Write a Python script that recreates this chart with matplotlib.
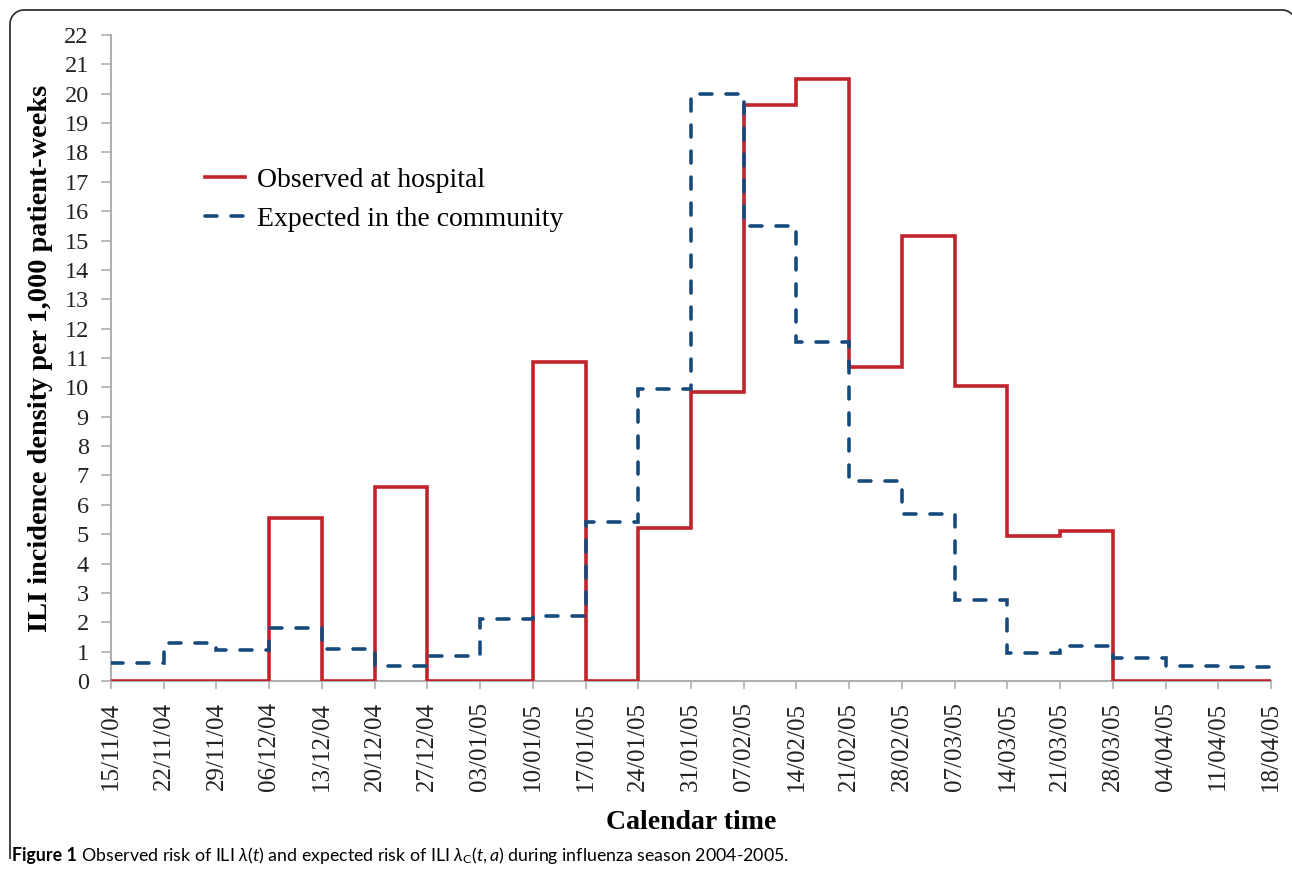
import numpy as np
import matplotlib
matplotlib.use("Agg")
import matplotlib.pyplot as plt
from matplotlib.lines import Line2D

# week boundaries (x axis)
dates = [
    "15/11/04", "22/11/04", "29/11/04", "06/12/04", "13/12/04", "20/12/04",
    "27/12/04", "03/01/05", "10/01/05", "17/01/05", "24/01/05", "31/01/05",
    "07/02/05", "14/02/05", "21/02/05", "28/02/05", "07/03/05", "14/03/05",
    "21/03/05", "28/03/05", "04/04/05", "11/04/05", "18/04/05",
]

# weekly values (one per interval between two dates)
observed = [0, 0, 0, 5.55, 0, 6.6, 0, 0, 10.85, 0, 5.2, 9.85,
            19.6, 20.5, 10.7, 15.15, 10.05, 4.95, 5.1, 0, 0, 0]
expected = [0.6, 1.3, 1.05, 1.8, 1.1, 0.5, 0.85, 2.1, 2.2, 5.4, 9.95, 20.0,
            15.5, 11.55, 6.8, 5.7, 2.75, 0.95, 1.2, 0.8, 0.5, 0.47]

yticks = list(range(0, 23))

RED = "#C1232B"
BLUE = "#174A7C"
GREY = "#AFAFAF"

plt.rcParams["font.family"] = ["Liberation Serif", "DejaVu Serif"]
plt.rcParams["mathtext.fontset"] = "custom"
plt.rcParams["mathtext.rm"] = "Lato"
plt.rcParams["mathtext.it"] = "Lato:italic"

fig = plt.figure(figsize=(12.92, 8.74), dpi=100)
ax = fig.add_axes([111 / 1292, 1 - 681 / 874, 1160 / 1292, 646 / 874])

edges = np.arange(len(dates))
ax.stairs(observed, edges, baseline=None, color=RED, linewidth=2.6,
          label="Observed at hospital", zorder=3)
ax.stairs(expected, edges, baseline=None, color=BLUE, linewidth=2.6,
          linestyle=(0, (3.3, 3.9)), label="Expected in the community",
          zorder=4)
for a in ax.patches:
    a.set_capstyle("round")
    a.set_joinstyle("miter")

ax.set_xlim(0, len(dates) - 1)
ax.set_ylim(0, 22)
ax.set_xticks(edges)
ax.set_xticklabels(dates, rotation=90, fontsize=18, color="#222222")
ax.set_yticks(yticks)
ax.set_yticklabels([str(v) for v in yticks], fontsize=17.5, color="#222222")
ax.tick_params(axis="y", length=7, width=1.2, color=GREY, pad=9)
ax.tick_params(axis="x", length=6, width=1.2, color=GREY, pad=9)

for s in ["top", "right"]:
    ax.spines[s].set_visible(False)
for s in ["left", "bottom"]:
    ax.spines[s].set_color(GREY)
    ax.spines[s].set_linewidth(1.5)

ax.set_ylabel("ILI incidence density per 1,000 patient-weeks",
              fontsize=20.3, fontweight="bold", labelpad=8)
ax.set_xlabel("Calendar time", fontsize=20, fontweight="bold", labelpad=14)

handles = [
    Line2D([], [], color=RED, linewidth=2.6),
    Line2D([], [], color=BLUE, linewidth=2.6, linestyle=(0, (3.3, 3.9)),
           dash_capstyle="round"),
]
ax.legend(handles, ["Observed at hospital", "Expected in the community"],
          loc="upper left", bbox_to_anchor=(0.081, 0.795), frameon=False,
          fontsize=20, handlelength=1.45, handletextpad=0.42,
          labelspacing=0.48, borderpad=0, borderaxespad=0)

# rounded frame around the figure
r = 14
t = np.linspace(0, np.pi / 2, 20)
fx = [10] + list(10 + r - r * np.cos(t)) + list(1282 + r * np.sin(t)) + [1296]
fy = [858] + list(10 + r - r * np.sin(t)) + list(10 + r - r * np.cos(t)) + [40]
fig.add_artist(Line2D(np.array(fx) / 1292, 1 - np.array(fy) / 874,
                      transform=fig.transFigure, color="#333333",
                      linewidth=1.3))

cap1 = fig.text(12 / 1292, 1 - 856 / 874, "Figure 1", fontsize=12.8,
                fontweight="bold", family=["Lato", "DejaVu Sans"],
                va="center", ha="left")
plt.annotate(r" Observed risk of ILI $\lambda(t)$ and expected risk of ILI "
             r"$\lambda_{\mathrm{C}}(t,a)$ during influenza season 2004-2005.",
             xy=(1, 0.5), xycoords=cap1, va="center", ha="left",
             fontsize=12.8, family=["Lato", "DejaVu Sans"],
             annotation_clip=False)

fig.savefig("out.png", dpi=100)
